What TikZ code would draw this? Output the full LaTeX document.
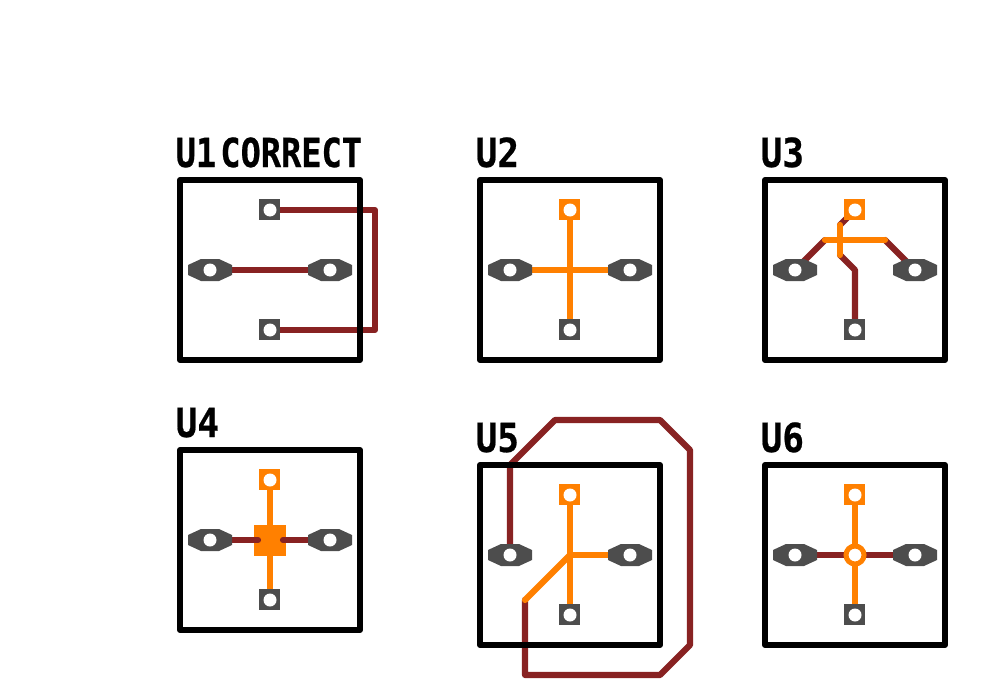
\documentclass[tikz,border=0pt]{standalone}
\usepackage{fontspec}
\newfontfamily\boardfont[FakeBold=0.6]{DejaVu Sans Mono Bold}
\pgfdeclarelayer{traces}
\pgfsetlayers{traces,main}
\definecolor{padgray}{HTML}{4D4D4D}
\definecolor{copperbrown}{HTML}{882222}
\definecolor{copperorange}{HTML}{FF8000}
\tikzset{
  ovalpad/.style={shape=rectangle,inner sep=0pt,minimum width=44pt,minimum height=22pt,
    path picture={
      \fill[padgray] ([shift={(-22,-5)}]path picture bounding box.center)
        -- ([shift={(-9,-11)}]path picture bounding box.center)
        -- ([shift={(9,-11)}]path picture bounding box.center)
        -- ([shift={(22,-5)}]path picture bounding box.center)
        -- ([shift={(22,5)}]path picture bounding box.center)
        -- ([shift={(9,11)}]path picture bounding box.center)
        -- ([shift={(-9,11)}]path picture bounding box.center)
        -- ([shift={(-22,5)}]path picture bounding box.center) -- cycle;
      \fill[white] (path picture bounding box.center) circle (6.5pt);
    }},
  squarepad/.style={shape=rectangle,inner sep=0pt,minimum size=22pt,
    path picture={
      \fill[#1] ([shift={(-11,-11)}]path picture bounding box.center) rectangle ([shift={(10,10)}]path picture bounding box.center);
      \fill[white] (path picture bounding box.center) circle (6.5pt);}},
  frameline/.style={draw=black,line width=6pt,line join=round},
  brown trace/.style={draw=copperbrown,line width=6.2pt,line cap=round,line join=round},
  orange trace/.style={draw=copperorange,line width=6.2pt,line cap=round,line join=round},
  partlabel/.style={anchor=base west,inner sep=0pt,font=\boardfont\fontsize{40}{40}\selectfont,xscale=#1,text=black},
  partlabel/.default=0.9,
}
\newcommand{\partpads}[4]{%
  \node[squarepad=#4] (#1t) at (#2+90,#3+30) {};
  \node[squarepad=padgray] (#1b) at (#2+90,#3+150) {};
  \node[ovalpad] (#1l) at (#2+30,#3+90) {};
  \node[ovalpad] (#1r) at (#2+150,#3+90) {};
  \node[frameline,shape=rectangle,inner sep=0pt,minimum size=180pt] (#1f) at (#2+90,#3+90) {};
}
\begin{document}
\begin{tikzpicture}[x=1pt,y=-1pt]
\useasboundingbox (0,0) rectangle (990,690);

\partpads{a}{180}{180}{padgray}
\partpads{b}{480}{180}{copperorange}
\partpads{c}{765}{180}{copperorange}
\partpads{d}{180}{450}{copperorange}
\partpads{e}{480}{465}{copperorange}
\partpads{f}{765}{465}{copperorange}

\node[partlabel=0.84] (la) at (175.5,167) {U1\hspace{-19pt} CORRECT};
\node[partlabel] (lb) at (475.5,167) {U2};
\node[partlabel] (lc) at (760.5,167) {U3};
\node[partlabel] (ld) at (175.5,437) {U4};
\node[partlabel] (le) at (475.5,452) {U5};
\node[partlabel] (lf) at (760.5,452) {U6};

% U1 bends
\coordinate (a1) at (375,210);
\coordinate (a2) at (375,330);
% U3 bends
\coordinate (c1) at (825,240);
\coordinate (c2) at (885,240);
\coordinate (c3) at (840,225);
\coordinate (c4) at (840,255);
\coordinate (c5) at (855,270);
% U4 centre
\node[shape=rectangle,inner sep=0pt,minimum width=32pt,minimum height=31pt] (dv) at (270,540.5) {};
\coordinate (d1) at (258,540);
\coordinate (d2) at (283,540);
% U5 bends
\coordinate (e0) at (570,555);
\coordinate (e1) at (525,600);
\coordinate (e2) at (525,675);
\coordinate (e3) at (660,675);
\coordinate (e4) at (690,645);
\coordinate (e5) at (690,450);
\coordinate (e6) at (660,420);
\coordinate (e7) at (555,420);
\coordinate (e8) at (510,465);
% U6 via
\node[shape=circle,inner sep=0pt,minimum size=18pt,fill=white,draw=copperorange,line width=5pt] (fv) at (855,555) {};

\begin{pgfonlayer}{traces}
  % U1
  \draw[brown trace] (al.center) -- (ar.center);
  \draw[brown trace] (at.center) -- (a1) -- (a2) -- (ab.center);
  % U2
  \draw[orange trace] (bl.center) -- (br.center);
  \draw[orange trace] (bt.center) -- (bb.center);
  % U3
  \draw[brown trace] (cl.center) -- (c1);
  \draw[brown trace] (c2) -- (cr.center);
  \draw[brown trace] (ct.center) -- (c3);
  \draw[brown trace] (c4) -- (c5) -- (cb.center);
  \draw[orange trace] (c1) -- (c2);
  \draw[orange trace] (c3) -- (c4);
  % U4
  \draw[orange trace] (dt.center) -- (db.center);
  \fill[copperorange] (dv.north west) rectangle (dv.south east);
  \draw[brown trace] (dl.center) -- (d1);
  \draw[brown trace] (dr.center) -- (d2);
  % U5
  \draw[brown trace] (el.center) -- (e8) -- (e7) -- (e6) -- (e5) -- (e4) -- (e3) -- (e2) -- (e1);
  \draw[orange trace] (et.center) -- (eb.center);
  \draw[orange trace] (e0) -- (er.center);
  \draw[orange trace] (e0) -- (e1);
  % U6
  \draw[brown trace] (fl.center) -- (fv.center);
  \draw[brown trace] (fr.center) -- (fv.center);
  \draw[orange trace] (ft.center) -- (fb.center);
\end{pgfonlayer}
\end{tikzpicture}
\end{document}
